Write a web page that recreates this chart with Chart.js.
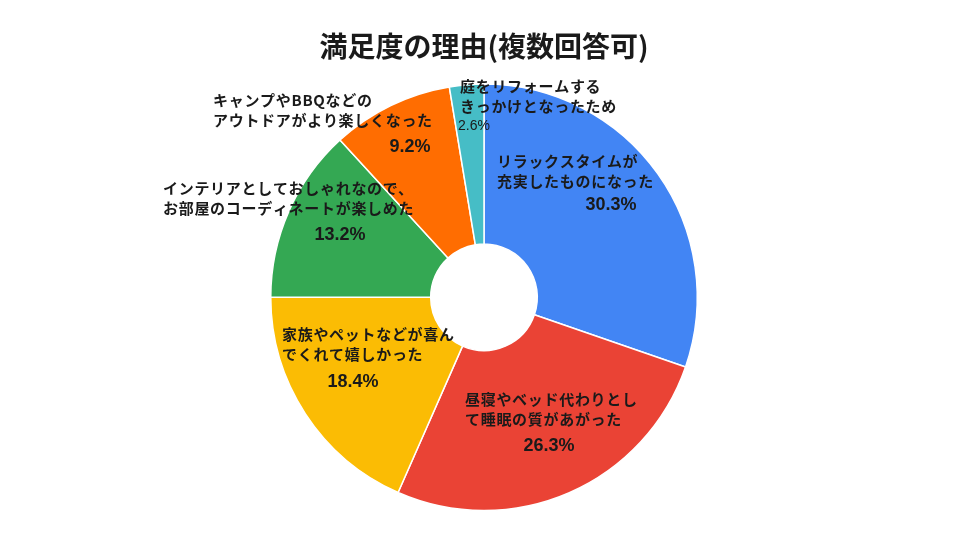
<!DOCTYPE html>
<html>
<head>
<meta charset="utf-8">
<script src="https://cdn.jsdelivr.net/npm/chart.js@4/dist/chart.umd.min.js"></script>
<style>
  html, body { margin: 0; padding: 0; background: #fff; }
  #wrap { width: 960px; height: 540px; }
</style>
</head>
<body>
<div id="wrap"><canvas id="canvas" width="960" height="540"></canvas></div>
<script>
"use strict";

// データ
const title = "満足度の理由(複数回答可)";
const categories = [
  ["リラックスタイムが", "充実したものになった"],
  ["昼寝やベッド代わりとし", "て睡眠の質があがった"],
  ["家族やペットなどが喜ん", "でくれて嬉しかった"],
  ["インテリアとしておしゃれなので、", "お部屋のコーディネートが楽しめた"],
  ["キャンプやBBQなどの", "アウトドアがより楽しくなった"],
  ["庭をリフォームする", "きっかけとなったため"]
];
const values = [30.3, 26.3, 18.4, 13.2, 9.2, 2.6];
const colors = ["#4285F4", "#EA4335", "#FBBC04", "#34A853", "#FF6D01", "#46BDC6"];

// ラベル配置（円の中心からの相対位置）: テキスト左端, 1行目y, %中心x, %中心y
const labelLayout = [
  { tx: 13, ty: -136, px: 127, py: -92 },
  { tx: -19, ty: 102, px: 65, py: 149 },
  { tx: -202, ty: 37, px: -131, py: 85 },
  { tx: -321, ty: -109, px: -144, py: -62 },
  { tx: -271, ty: -197, px: -74, py: -150 },
  { tx: -24, ty: -211, px: -10, py: -171, small: true }
];

const labelPlugin = {
  id: "sliceLabels",
  afterDatasetsDraw(chart) {
    const ctx = chart.ctx;
    const meta = chart.getDatasetMeta(0);
    const total = values.reduce((a, b) => a + b, 0);
    ctx.save();
    meta.data.forEach((arc, i) => {
      const cx = arc.x, cy = arc.y;
      const lay = labelLayout[i];
      ctx.fillStyle = "#1a1a1a";
      ctx.textBaseline = "middle";
      ctx.textAlign = "left";
      ctx.font = "bold 15px 'Noto Sans CJK JP'";
      ctx.letterSpacing = "0.7px";
      categories[i].forEach((line, j) => {
        ctx.fillText(line, cx + lay.tx, cy + lay.ty + j * 19.5);
      });
      ctx.letterSpacing = "0px";
      ctx.textAlign = "center";
      ctx.font = lay.small ? "14px 'Liberation Sans'" : "bold 18px 'Liberation Sans'";
      const pct = (values[i] / total * 100).toFixed(1) + "%";
      ctx.fillText(pct, cx + lay.px, cy + lay.py);
    });
    ctx.restore();
  }
};

const ctx = document.getElementById("canvas").getContext("2d");
new Chart(ctx, {
  type: "doughnut",
  data: {
    labels: categories.map(c => c.join("")),
    datasets: [{
      data: values,
      backgroundColor: colors,
      borderColor: "#ffffff",
      borderWidth: 1.5
    }]
  },
  options: {
    responsive: false,
    animation: false,
    cutout: "25%",
    layout: { padding: { top: 0, left: 270, right: 262, bottom: 28 } },
    plugins: {
      legend: { display: false },
      tooltip: { enabled: false },
      title: {
        display: true,
        text: title,
        color: "#1a1a1a",
        font: { family: "'Noto Sans CJK JP'", size: 28, weight: "bold" },
        padding: { top: 30, bottom: 19 }
      }
    }
  },
  plugins: [labelPlugin]
});
</script>
</body>
</html>
